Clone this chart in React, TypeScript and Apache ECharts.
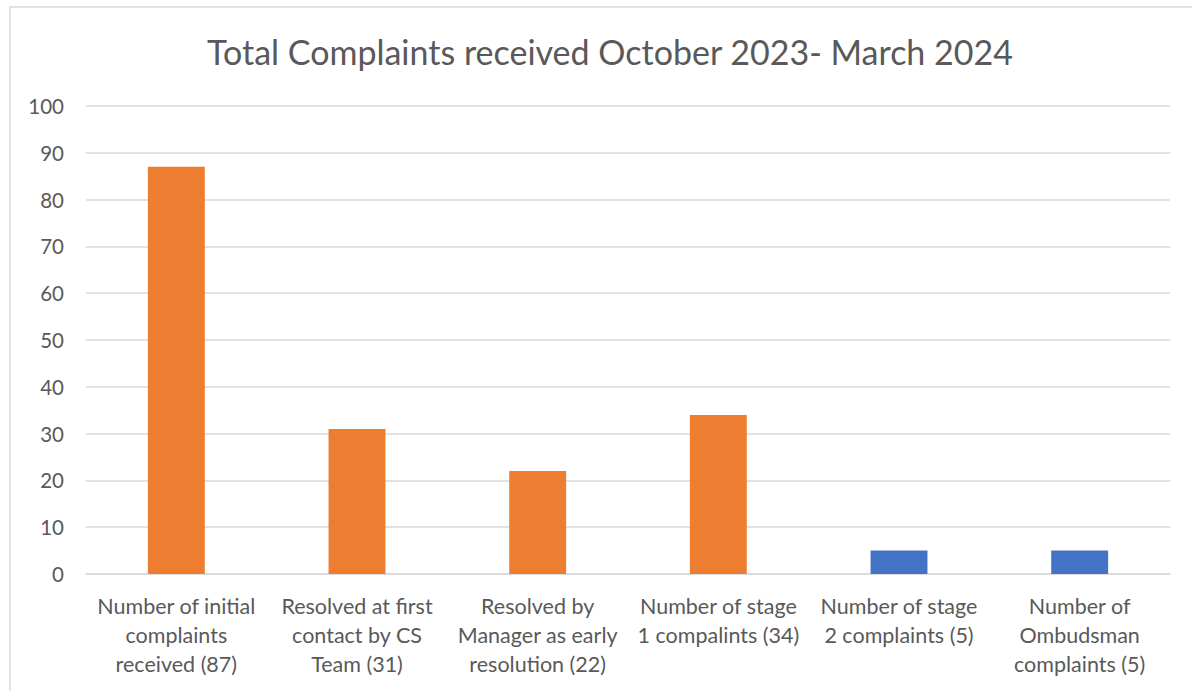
import React, { useEffect, useRef } from "react";
import * as echarts from "echarts";

const categories = [
  "Number of initial\ncomplaints\nreceived (87)",
  "Resolved at first\ncontact by CS\nTeam (31)",
  "Resolved by\nManager as early\nresolution (22)",
  "Number of stage\n1 compalints (34)",
  "Number of stage\n2 complaints (5)",
  "Number of\nOmbudsman\ncomplaints (5)",
];
const internalValues: (number | string)[] = [87, 31, 22, 34, "-", "-"];
const escalatedValues: (number | string)[] = ["-", "-", "-", "-", 5, 5];
const yTicks = { min: 0, max: 100, interval: 10 };
const titleText = "Total Complaints received October 2023- March 2024";

const FONT = "Lato, 'Noto Sans', sans-serif";

export default function App() {
  const ref = useRef<HTMLDivElement>(null);
  useEffect(() => {
    document.body.style.margin = "0";
    const chart = echarts.init(ref.current!, null, { renderer: "svg" });
    chart.setOption({
      animation: false,
      backgroundColor: "#ffffff",
      textStyle: { fontFamily: FONT },
      graphic: [
        {
          type: "rect",
          shape: { x: 10, y: 7, width: 1200, height: 700 },
          style: { fill: "none", stroke: "#d9d9d9", lineWidth: 1.5 },
          silent: true,
          z: -1,
        },
      ],
      title: {
        text: titleText,
        left: 605,
        textAlign: "center",
        top: 29,
        textStyle: {
          fontFamily: FONT,
          fontSize: 34,
          fontWeight: "normal",
          color: "#595959",
        },
      },
      grid: { left: 86, right: 22, top: 106, bottom: 117, containLabel: false },
      xAxis: {
        type: "category",
        data: categories,
        axisLine: { lineStyle: { color: "#d9d9d9", width: 1.5 } },
        axisTick: { show: false },
        axisLabel: {
          interval: 0,
          color: "#595959",
          fontSize: 21.5,
          fontFamily: FONT,
          lineHeight: 29,
          margin: 17,
          align: "center",
        },
      },
      yAxis: {
        type: "value",
        min: yTicks.min,
        max: yTicks.max,
        interval: yTicks.interval,
        axisLine: { show: false },
        axisTick: { show: false },
        splitLine: { lineStyle: { color: "#d9d9d9", width: 1.5 } },
        axisLabel: { color: "#595959", fontSize: 20.5, fontFamily: FONT, margin: 22 },
      },
      series: [
        {
          type: "bar",
          name: "Internal",
          stack: "total",
          data: internalValues,
          barWidth: "31.5%",
          itemStyle: { color: "#ED7D31" },
        },
        {
          type: "bar",
          name: "Escalated",
          stack: "total",
          data: escalatedValues,
          barWidth: "31.5%",
          itemStyle: { color: "#4472C4" },
        },
      ],
    });
    return () => chart.dispose();
  }, []);
  return (
    <div
      ref={ref}
      style={{ width: 1192, height: 691, position: "absolute", left: 0, top: 0 }}
    />
  );
}
